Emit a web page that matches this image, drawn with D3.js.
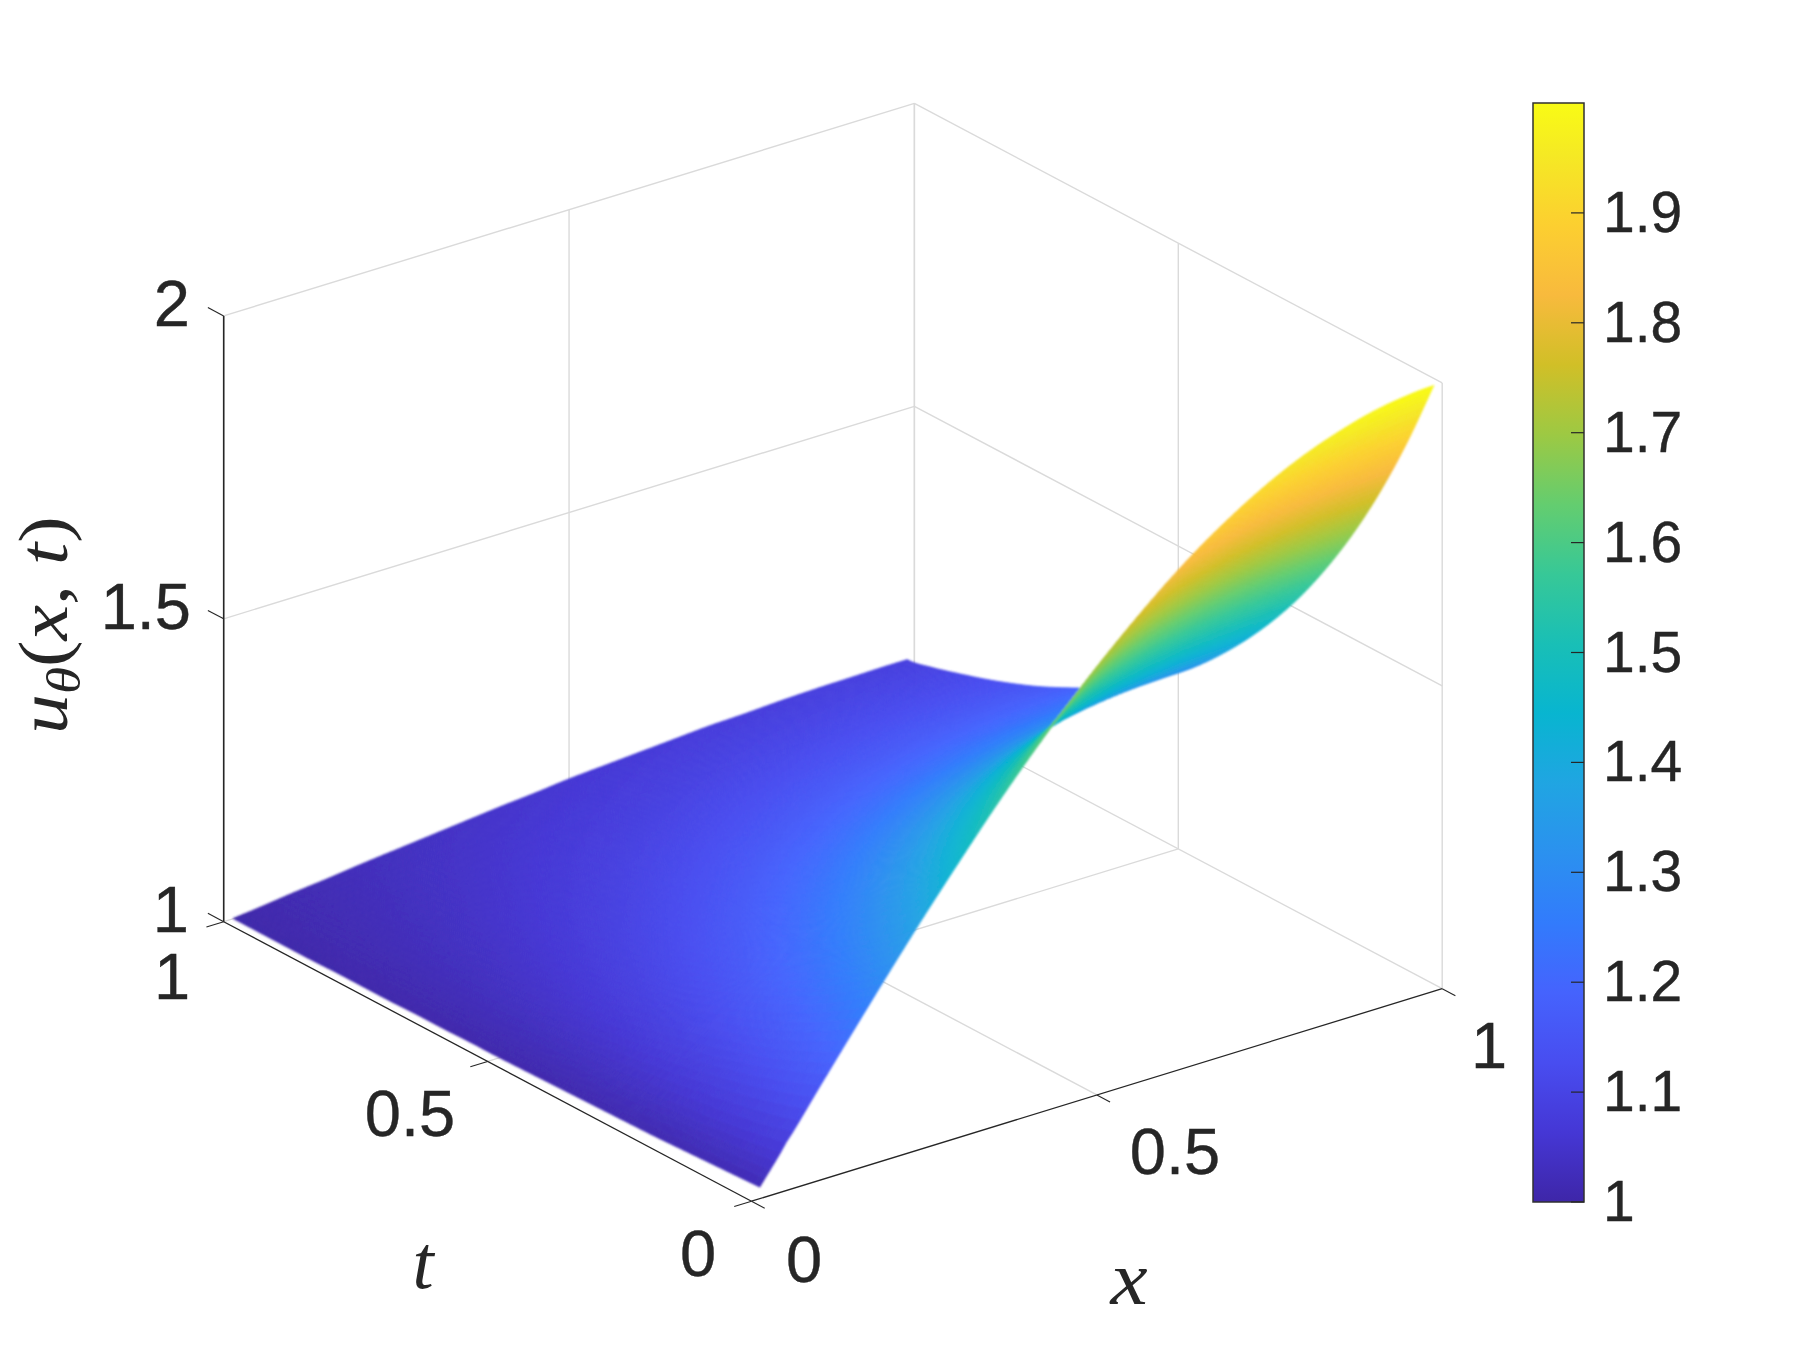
<!DOCTYPE html>
<html>
<head>
<meta charset="utf-8">
<style>
  html, body { margin: 0; padding: 0; background: #fff; }
  text { fill: #262626; font-family: "Liberation Sans", Arial, sans-serif; }
  .ticklabel { font-size: 65px; stroke: #262626; stroke-width: 0.4px; }
  .cbarlabel { font-size: 57px; stroke: #262626; stroke-width: 0.4px; }
  .mathlabel { font-family: "Liberation Serif", serif; font-size: 76px; font-style: italic; }
  .upright { font-style: normal; }
</style>
<script src="https://cdn.jsdelivr.net/npm/d3@7"></script>
</head>
<body>
<svg id="chart"></svg>
<script>
// DATA
//////////////////////////////
var xGrid = [0.012, 0.05, 0.10, 0.15, 0.20, 0.25, 0.30, 0.35, 0.40, 0.45, 0.50, 0.55, 0.60, 0.65, 0.70, 0.75, 0.80, 0.85, 0.90, 0.95, 0.988];
var tGrid = [0, 0.05, 0.10, 0.15, 0.20, 0.25, 0.30, 0.35, 0.40, 0.45, 0.50, 0.55, 0.60, 0.65, 0.70, 0.75, 0.80, 0.85, 0.90, 0.95, 0.998];

// u(x,t), one row per tGrid entry, one column per xGrid entry
var uRows = [
  [1.019,1.079,1.156,1.233,1.309,1.383,1.454,1.523,1.588,1.649,1.707,1.760,1.809,1.853,1.891,1.924,1.951,1.972,1.988,1.997,2.000],
  [1.017,1.069,1.138,1.206,1.273,1.338,1.401,1.462,1.519,1.574,1.625,1.672,1.715,1.754,1.787,1.817,1.841,1.859,1.873,1.881,1.884],
  [1.015,1.061,1.122,1.182,1.241,1.299,1.355,1.408,1.459,1.507,1.552,1.594,1.632,1.666,1.696,1.722,1.743,1.760,1.772,1.779,1.781],
  [1.013,1.054,1.108,1.161,1.213,1.264,1.314,1.361,1.406,1.448,1.488,1.525,1.559,1.589,1.615,1.638,1.657,1.672,1.682,1.688,1.690],
  [1.011,1.048,1.095,1.142,1.189,1.234,1.277,1.319,1.359,1.396,1.432,1.464,1.494,1.521,1.544,1.564,1.581,1.594,1.603,1.609,1.610],
  [1.010,1.042,1.084,1.126,1.167,1.207,1.245,1.282,1.317,1.350,1.382,1.410,1.437,1.460,1.481,1.499,1.513,1.525,1.533,1.538,1.539],
  [1.009,1.037,1.075,1.111,1.147,1.183,1.217,1.249,1.280,1.310,1.337,1.363,1.386,1.407,1.425,1.441,1.454,1.464,1.471,1.476,1.477],
  [1.008,1.033,1.066,1.098,1.130,1.161,1.191,1.220,1.248,1.274,1.298,1.321,1.341,1.360,1.376,1.390,1.401,1.410,1.417,1.420,1.422],
  [1.007,1.029,1.058,1.087,1.115,1.143,1.169,1.195,1.219,1.242,1.264,1.283,1.302,1.318,1.332,1.344,1.354,1.362,1.368,1.372,1.373],
  [1.006,1.026,1.052,1.077,1.102,1.126,1.150,1.172,1.194,1.214,1.233,1.251,1.267,1.281,1.294,1.304,1.313,1.320,1.325,1.328,1.329],
  [1.005,1.023,1.046,1.068,1.090,1.111,1.132,1.152,1.171,1.189,1.206,1.221,1.236,1.248,1.259,1.269,1.277,1.283,1.288,1.290,1.291],
  [1.005,1.020,1.040,1.060,1.080,1.099,1.117,1.134,1.151,1.167,1.182,1.196,1.208,1.219,1.229,1.238,1.245,1.250,1.254,1.257,1.257],
  [1.004,1.018,1.036,1.053,1.070,1.087,1.103,1.119,1.134,1.148,1.161,1.173,1.184,1.194,1.203,1.210,1.216,1.221,1.225,1.227,1.228],
  [1.004,1.016,1.031,1.047,1.062,1.077,1.091,1.105,1.118,1.131,1.142,1.153,1.163,1.172,1.179,1.186,1.191,1.196,1.199,1.201,1.201],
  [1.003,1.014,1.028,1.041,1.055,1.068,1.081,1.093,1.105,1.115,1.126,1.135,1.144,1.152,1.158,1.164,1.169,1.173,1.176,1.177,1.178],
  [1.003,1.012,1.025,1.037,1.049,1.060,1.071,1.082,1.092,1.102,1.111,1.120,1.127,1.134,1.140,1.145,1.150,1.153,1.155,1.157,1.157],
  [1.003,1.011,1.022,1.032,1.043,1.053,1.063,1.073,1.082,1.090,1.098,1.106,1.112,1.118,1.124,1.128,1.132,1.135,1.137,1.138,1.139],
  [1.002,1.010,1.019,1.029,1.038,1.047,1.056,1.064,1.072,1.080,1.087,1.093,1.099,1.105,1.109,1.113,1.117,1.119,1.121,1.122,1.123],
  [1.002,1.009,1.017,1.025,1.034,1.042,1.049,1.057,1.064,1.071,1.077,1.083,1.088,1.093,1.097,1.100,1.103,1.106,1.107,1.108,1.109],
  [1.002,1.008,1.015,1.022,1.030,1.037,1.044,1.050,1.056,1.062,1.068,1.073,1.078,1.082,1.086,1.089,1.091,1.093,1.095,1.096,1.096],
  [1.002,1.007,1.014,1.020,1.027,1.033,1.039,1.045,1.051,1.056,1.062,1.066,1.070,1.074,1.078,1.080,1.083,1.085,1.086,1.087,1.087]
];

var xTicks = [0, 0.5, 1];
var tTicks = [0, 0.5, 1];
var zTicks = [1, 1.5, 2];
var cbarTicks = [1, 1.1, 1.2, 1.3, 1.4, 1.5, 1.6, 1.7, 1.8, 1.9];

// parula, sampled
var cmapColors = ['#3e26a8','#4537d5','#484df0','#4563fd','#327bfc','#2b91ef','#20a5e2','#08b5d0','#19bfb6',
                  '#37c897','#64cd6f','#9dc943','#d1bf27','#f8ba3d','#fccf30','#f5e924','#f9fb15'];
var cmapValues = [0,4,8,12,16,20,24,28,32,36,40,44,48,52,56,60,63].map(function(i) { return 1 + i / 63; });

// SETUP
////////////////////////////
var width = 1799,
    height = 1353;

var svg = d3.select("#chart").attr("width", width).attr("height", height).style("display", "block");

var color = d3.scaleLinear().domain(cmapValues).range(cmapColors);

// axis directions on the page (box is an orthographic view)
var xPx = d3.scaleLinear().domain([0, 1]).range([751.5, 1442.2]);
var xPy = d3.scaleLinear().domain([0, 1]).range([1201.2, 988.7]);
var tPx = d3.scaleLinear().domain([0, 1]).range([0, -527.8]);
var tPy = d3.scaleLinear().domain([0, 1]).range([0, -279.5]);
var zPy = d3.scaleLinear().domain([1, 2]).range([0, -605.8]);

function project(x, t, z) {
  return [xPx(x) + tPx(t), xPy(x) + tPy(t) + zPy(z)];
}

function seg(g, a, b, stroke, sw) {
  var p = project(a[0], a[1], a[2]), q = project(b[0], b[1], b[2]);
  g.append("line")
    .attr("x1", p[0]).attr("y1", p[1])
    .attr("x2", q[0]).attr("y2", q[1])
    .attr("stroke", stroke)
    .attr("stroke-width", sw);
}

// GRID on the back walls and the floor
///////////////////////////////
var grid = svg.append("g").attr("class", "grid");
var gridColor = "#dadada";
xTicks.forEach(function(v) {
  seg(grid, [v, 1, 1], [v, 1, 2], gridColor, 1.4);         // wall t=1, verticals
  if (v > 0) seg(grid, [v, 0, 1], [v, 1, 1], gridColor, 1.4); // floor
});
tTicks.forEach(function(v) {
  seg(grid, [1, v, 1], [1, v, 2], gridColor, 1.4);         // wall x=1, verticals
  if (v > 0) seg(grid, [0, v, 1], [1, v, 1], gridColor, 1.4); // floor
});
zTicks.forEach(function(v) {
  if (v > 1) {
    seg(grid, [0, 1, v], [1, 1, v], gridColor, 1.4);
    seg(grid, [1, 0, v], [1, 1, v], gridColor, 1.4);
  }
});

// AXES
///////////////////////////////
var axes = svg.append("g").attr("class", "axes");
var axisColor = "#262626";
seg(axes, [0, 1, 1], [0, 1, 2], axisColor, 1.6);
seg(axes, [0, 0, 1], [0, 1, 1], axisColor, 1.3);
seg(axes, [0, 0, 1], [1, 0, 1], axisColor, 1.3);
zTicks.forEach(function(v) { seg(axes, [0, 1, v], [0, 1.03, v], axisColor, 1.1); });
tTicks.forEach(function(v) { seg(axes, [0, v, 1], [-0.025, v, 1], axisColor, 1.1); });
xTicks.forEach(function(v) { seg(axes, [v, 0, 1], [v, -0.025, 1], axisColor, 1.1); });

// SURFACE
///////////////////////////////
// shading interp: every grid cell is split up and coloured from the table,
// cubic between table entries so the outline doesnt show kinks
function cubic(p0, p1, p2, p3, a) {
  return p1 + 0.5 * a * (p2 - p0 + a * (2 * p0 - 5 * p1 + 4 * p2 - p3 + a * (3 * (p1 - p2) + p3 - p0)));
}
function node(r, c) {
  // past the edge of the table: carry on straight
  var rr = Math.max(0, Math.min(uRows.length - 1, r));
  var cc = Math.max(0, Math.min(xGrid.length - 1, c));
  var v = uRows[rr][cc];
  if (c !== cc) v += (c < cc ? 1 : -1) * (uRows[rr][cc] - uRows[rr][cc + (c < cc ? 1 : -1)]);
  if (r !== rr) v += (r < rr ? 1 : -1) * (uRows[rr][cc] - uRows[rr + (r < rr ? 1 : -1)][cc]);
  return v;
}
function surfaceAt(i, j, a, b) {
  var rows = [-1, 0, 1, 2].map(function(dj) {
    return cubic(node(j + dj, i - 1), node(j + dj, i), node(j + dj, i + 1), node(j + dj, i + 2), a);
  });
  return [xGrid[i] + (xGrid[i + 1] - xGrid[i]) * a,
          tGrid[j] + (tGrid[j + 1] - tGrid[j]) * b,
          cubic(rows[0], rows[1], rows[2], rows[3], b)];
}

var subX = 5, subT = 8;   // u changes fastest along t
var quads = [];
d3.range(tGrid.length - 1).forEach(function(j) {
  d3.range(xGrid.length - 1).forEach(function(i) {
    d3.range(subT).forEach(function(m) {
      d3.range(subX).forEach(function(k) {
        var c = [surfaceAt(i, j, k / subX, m / subT), surfaceAt(i, j, (k + 1) / subX, m / subT),
                 surfaceAt(i, j, (k + 1) / subX, (m + 1) / subT), surfaceAt(i, j, k / subX, (m + 1) / subT)];
        var mid = surfaceAt(i, j, (k + .5) / subX, (m + .5) / subT);
        quads.push({
          pts: c.map(function(p) { return project(p[0], p[1], p[2]); }),
          u: mid[2],
          depth: mid[0] + 1.3087 * mid[1] - 0.9587 * mid[2]   // along the line of sight, bigger = further back
        });
      });
    });
  });
});
quads.sort(function(a, b) { return b.depth - a.depth; });

// slight blur takes out the seams between the little quads
var defs = svg.append("defs");
defs.append("filter").attr("id", "soft")
  .attr("filterUnits", "userSpaceOnUse")
  .attr("x", 0).attr("y", 0).attr("width", width).attr("height", height)
  .append("feGaussianBlur").attr("stdDeviation", 0.8);

var line = d3.line();
svg.append("g").attr("class", "surface")
  .attr("filter", "url(#soft)")
  .selectAll("path")
  .data(quads)
  .enter().append("path")
    .attr("d", function(d) { return line(d.pts) + "Z"; })
    .attr("fill", function(d) { return color(d.u); })
    .attr("stroke", function(d) { return color(d.u); })
    .attr("stroke-width", 0.7)
    .attr("stroke-linejoin", "round");

// TICK LABELS
///////////////////////////////
function label(str, x, y, anchor, cls) {
  svg.append("text").attr("class", cls || "ticklabel")
    .attr("x", x).attr("y", y)
    .attr("text-anchor", anchor)
    .attr("dominant-baseline", "central")
    .text(str);
}
var zLabels = ["1", "1.5", "2"];
var zLabelAt = [[189, 909], [191, 606], [190, 303]];
zTicks.forEach(function(v, i) { label(zLabels[i], zLabelAt[i][0], zLabelAt[i][1], "end"); });

var tLabels = ["0", "0.5", "1"];
var tLabelAt = [[698, 1253], [410, 1113], [172, 976]];
tTicks.forEach(function(v, i) { label(tLabels[i], tLabelAt[i][0], tLabelAt[i][1], "middle"); });

var xLabels = ["0", "0.5", "1"];
var xLabelAt = [[804, 1259], [1175, 1151], [1489, 1045]];
xTicks.forEach(function(v, i) { label(xLabels[i], xLabelAt[i][0], xLabelAt[i][1], "middle"); });

// AXIS LABELS (math style)
///////////////////////////////
svg.append("text").attr("class", "mathlabel")
  .attr("x", 423).attr("y", 1288).attr("text-anchor", "middle").text("t");
svg.append("text").attr("class", "mathlabel")
  .attr("transform", "translate(1129,1304) scale(1.1,1)")
  .attr("text-anchor", "middle").text("x");

var zName = svg.append("text").attr("class", "mathlabel")
  .attr("transform", "translate(67,625) rotate(-90)")
  .attr("text-anchor", "middle")
  .attr("textLength", 218)
  .attr("lengthAdjust", "spacingAndGlyphs")
  .style("font-size", "70px");
zName.append("tspan").text("u");
zName.append("tspan").attr("font-size", 48).attr("dy", 13).text("θ");
zName.append("tspan").attr("class", "upright").attr("dy", -13).text("(");
zName.append("tspan").text("x");
zName.append("tspan").attr("class", "upright").text(", ");
zName.append("tspan").text("t");
zName.append("tspan").attr("class", "upright").text(")");

// COLORBAR
///////////////////////////////
var cbar = { x0: 1533, x1: 1584, top: 103, bottom: 1202 };
var cbarY = d3.scaleLinear().domain([1, 2]).range([cbar.bottom, cbar.top]);
var cbarG = svg.append("g").attr("class", "colorbar");
var grad = defs.append("linearGradient").attr("id", "cbarGrad")
  .attr("x1", 0).attr("y1", 1).attr("x2", 0).attr("y2", 0);
grad.selectAll("stop")
  .data(cmapValues)
  .enter().append("stop")
    .attr("offset", function(d) { return d - 1; })
    .attr("stop-color", function(d) { return color(d); });
cbarG.append("rect")
  .attr("x", cbar.x0).attr("y", cbar.top)
  .attr("width", cbar.x1 - cbar.x0).attr("height", cbar.bottom - cbar.top)
  .attr("fill", "url(#cbarGrad)").attr("stroke", "#303030").attr("stroke-width", 1.5);
cbarTicks.forEach(function(v) {
  cbarG.append("line")
    .attr("x1", cbar.x1 - 13).attr("x2", cbar.x1)
    .attr("y1", cbarY(v)).attr("y2", cbarY(v))
    .attr("stroke", "#262626").attr("stroke-width", 1.2);
  label(String(v), 1603, cbarY(v) - 1, "start", "cbarlabel");
});
</script>
</body>
</html>
